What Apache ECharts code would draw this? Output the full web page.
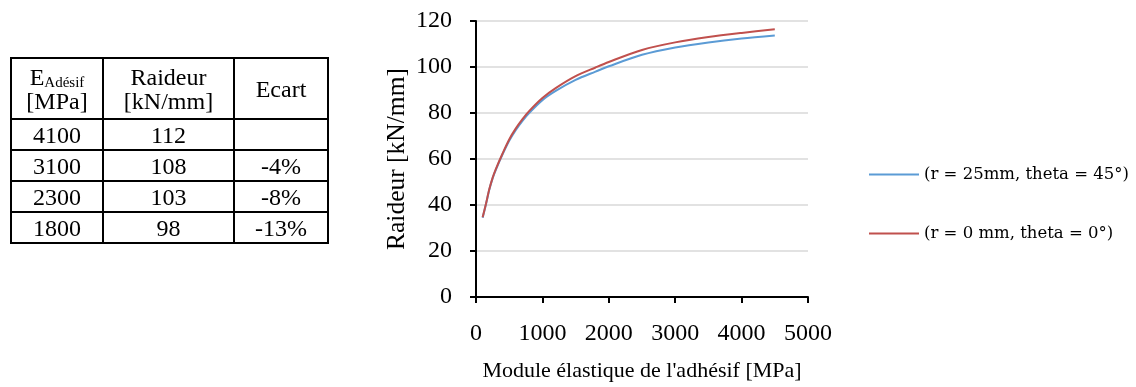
<!DOCTYPE html>
<html><head><meta charset="utf-8">
<script src="https://cdn.jsdelivr.net/npm/echarts@6/dist/echarts.min.js"></script>
<style>
html,body{margin:0;padding:0;background:#fff;}
#chart{position:absolute;left:0;top:0;width:1136px;height:387px;}
#tbl{position:absolute;left:10px;top:57px;border-collapse:collapse;font-family:"Liberation Serif","Times New Roman",serif;font-size:24px;color:#000;}
#tbl td{border:2px solid #000;text-align:center;padding:0;line-height:24px;}
#tbl sub{font-size:15px;vertical-align:-2px;line-height:0;}
</style></head>
<body>
<div id="chart"></div>
<table id="tbl"></table>
<script>
// Table data
const tableModulus = ['4100', '3100', '2300', '1800'];
const tableStiffness = ['112', '108', '103', '98'];
const tableGap = ['', '-4%', '-8%', '-13%'];

// Chart data
const xValues = [100, 150, 200, 250, 300, 400, 500, 600, 700, 800, 1000, 1200, 1500, 1800, 2000, 2500, 3000, 3500, 4000, 4500];
const blueValues = [34.5, 40.3, 46.6, 51.6, 55.4, 62.0, 67.9, 72.6, 76.6, 80.0, 85.6, 89.6, 94.4, 98.0, 100.3, 105.3, 108.5, 110.7, 112.4, 113.7];
const redValues  = [34.7, 40.5, 46.8, 51.8, 55.7, 62.4, 68.5, 73.3, 77.3, 80.8, 86.5, 90.8, 96.0, 99.8, 102.2, 107.4, 110.7, 113.0, 114.8, 116.4];
const seriesNames = ['(r = 25mm, theta = 45°)', '(r = 0 mm, theta = 0°)'];
const xTicks = [0, 1000, 2000, 3000, 4000, 5000];
const yTicks = [0, 20, 40, 60, 80, 100, 120];

// build table
const tbl = document.getElementById('tbl');
const widths = [90, 129, 92];
let html = '<tr style="height:61px"><td style="width:'+widths[0]+'px">E<sub>Adésif</sub><br>[MPa]</td><td style="width:'+widths[1]+'px">Raideur<br>[kN/mm]</td><td style="width:'+widths[2]+'px">Ecart</td></tr>';
for (let i = 0; i < tableModulus.length; i++) {
  html += '<tr style="height:31px"><td>'+tableModulus[i]+'</td><td>'+tableStiffness[i]+'</td><td>'+tableGap[i]+'</td></tr>';
}
tbl.innerHTML = html;

const chart = echarts.init(document.getElementById('chart'));
const font = '"Liberation Serif","Times New Roman",serif';
chart.setOption({
  animation: false,
  backgroundColor: '#fff',
  grid: {left: 476, right: 328, top: 21, bottom: 87, containLabel: false},
  legend: {
    orient: 'vertical', left: 869, top: 166, itemGap: 42, padding: 0,
    itemWidth: 50, itemHeight: 2,
    icon: 'rect',
    textStyle: {fontFamily: '"DejaVu Serif","Liberation Serif",serif', fontSize: 16.5, color: '#000'},
    data: seriesNames
  },
  xAxis: {
    type: 'value', min: 0, max: 5000, interval: 1000,
    name: "Module élastique de l'adhésif [MPa]", nameLocation: 'middle', nameGap: 63,
    nameTextStyle: {fontFamily: font, fontSize: 22, color: '#000'},
    axisLine: {show: true, lineStyle: {color: '#000', width: 2}},
    axisTick: {show: true, inside: false, length: 6, lineStyle: {color: '#000', width: 2}},
    axisLabel: {fontFamily: font, fontSize: 24, color: '#000', margin: 25,
      formatter: v => xTicks.indexOf(v) >= 0 ? String(v) : ''},
    splitLine: {show: false}
  },
  yAxis: {
    type: 'value', min: 0, max: 120, interval: 20,
    name: 'Raideur [kN/mm]', nameLocation: 'middle', nameGap: 66,
    nameTextStyle: {fontFamily: font, fontSize: 25.5, color: '#000'},
    axisLine: {show: true, lineStyle: {color: '#000', width: 2}},
    axisTick: {show: true, inside: false, length: 6, lineStyle: {color: '#000', width: 2}},
    axisLabel: {fontFamily: font, fontSize: 24, color: '#000', margin: 24,
      formatter: v => yTicks.indexOf(v) >= 0 ? String(v) : ''},
    splitLine: {show: true, lineStyle: {color: '#d9d9d9', width: 1.5}}
  },
  series: [
    {name: seriesNames[0], type: 'line', smooth: 0.3, showSymbol: false,
     lineStyle: {color: '#5B9BD5', width: 2}, itemStyle: {color: '#5B9BD5'},
     data: xValues.map((x, i) => [x, blueValues[i]])},
    {name: seriesNames[1], type: 'line', smooth: 0.3, showSymbol: false,
     lineStyle: {color: '#C0504D', width: 2}, itemStyle: {color: '#C0504D'},
     data: xValues.map((x, i) => [x, redValues[i]])}
  ]
});
</script>
</body></html>
